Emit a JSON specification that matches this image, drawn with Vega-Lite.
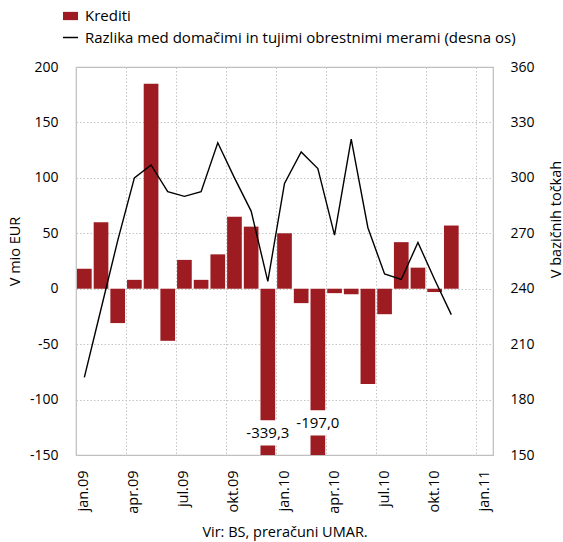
{
  "$schema": "https://vega.github.io/schema/vega-lite/v6.json",
  "width": 417,
  "height": 388,
  "autosize": "none",
  "padding": {"left": 76, "top": 67, "right": 70, "bottom": 87},
  "background": "white",
  "config": {
    "font": "Open Sans",
    "view": {"stroke": "#bdbdbd", "strokeWidth": 1.2},
    "axis": {"labelFont": "Open Sans", "titleFont": "Open Sans", "labelColor": "#000", "titleColor": "#000", "labelFontSize": 14, "titleFontSize": 14.5, "titleFontWeight": "normal", "ticks": false, "domain": false, "gridColor": "#c4c4c4", "gridDash": [1.5, 2], "gridWidth": 1},
    "legend": {"labelFont": "Open Sans", "labelFontSize": 15, "labelColor": "#000", "labelLimit": 600}
  },
  "data": {"values": [
    {"m": "jan.09", "krediti": 18, "razlika": 192},
    {"m": "feb.09", "krediti": 60, "razlika": 229},
    {"m": "mar.09", "krediti": -31, "razlika": 266},
    {"m": "apr.09", "krediti": 8, "razlika": 300},
    {"m": "maj.09", "krediti": 185, "razlika": 307},
    {"m": "jun.09", "krediti": -47, "razlika": 292.5},
    {"m": "jul.09", "krediti": 26, "razlika": 290},
    {"m": "avg.09", "krediti": 8, "razlika": 292.5},
    {"m": "sep.09", "krediti": 31, "razlika": 319},
    {"m": "okt.09", "krediti": 65, "razlika": 300},
    {"m": "nov.09", "krediti": 56, "razlika": 282},
    {"m": "dec.09", "krediti": -339.3, "razlika": 244},
    {"m": "jan.10", "krediti": 50, "razlika": 297},
    {"m": "feb.10", "krediti": -13, "razlika": 314},
    {"m": "mar.10", "krediti": -197.0, "razlika": 305},
    {"m": "apr.10", "krediti": -4, "razlika": 269},
    {"m": "maj.10", "krediti": -5, "razlika": 321},
    {"m": "jun.10", "krediti": -86, "razlika": 273},
    {"m": "jul.10", "krediti": -23, "razlika": 248},
    {"m": "avg.10", "krediti": 42, "razlika": 245},
    {"m": "sep.10", "krediti": 19, "razlika": 265},
    {"m": "okt.10", "krediti": -3, "razlika": 245},
    {"m": "nov.10", "krediti": 57, "razlika": 226}
  ]},
  "encoding": {
    "x": {
      "field": "m", "type": "ordinal", "sort": null,
      "scale": {"domain": ["jan.09","feb.09","mar.09","apr.09","maj.09","jun.09","jul.09","avg.09","sep.09","okt.09","nov.09","dec.09","jan.10","feb.10","mar.10","apr.10","maj.10","jun.10","jul.10","avg.10","sep.10","okt.10","nov.10","dec.10","jan.11"], "paddingInner": 0, "paddingOuter": 0},
      "axis": {"values": ["jan.09","apr.09","jul.09","okt.09","jan.10","apr.10","jul.10","okt.10","jan.11"], "bandPosition": 0, "grid": true, "labelAngle": -90, "labelPadding": 15, "labelFontSize": 14.5, "title": "Vir: BS, preračuni UMAR.", "titlePadding": 12}
    }
  },
  "layer": [
    {
      "layer": [
        {
          "mark": {"type": "bar", "width": {"band": 0.88}, "clip": true},
          "encoding": {
            "y": {"field": "krediti", "type": "quantitative", "scale": {"domain": [-150, 200], "nice": false, "zero": false},
                  "axis": {"values": [-150,-100,-50,0,50,100,150,200], "labelExpr": "replace(datum.label, '\u2212', '-')", "grid": true, "labelPadding": 18, "title": "V mio EUR", "titleX": -61, "titleY": 184, "titleAngle": -90, "titleBaseline": "middle", "titleAlign": "center"}},
            "fill": {"datum": "Krediti", "scale": {"range": ["#9c1c21"]},
                     "legend": {"title": null, "orient": "none", "legendX": -14, "legendY": -59.5, "symbolType": "M-1,-0.55H1V0.55H-1Z", "symbolSize": 225, "labelOffset": 6}}
          }
        },
        {
          "data": {"values": [{"m": "dec.09", "label": "-339,3", "ly": -130}, {"m": "mar.10", "label": "-197,0", "ly": -121}]},
          "mark": {"type": "point", "shape": "M-1,-0.55H1V0.55H-1Z", "filled": true, "fill": "white", "opacity": 1, "size": 2116, "strokeWidth": 0},
          "encoding": {"y": {"field": "ly", "type": "quantitative"}}
        },
        {
          "data": {"values": [{"m": "dec.09", "label": "-339,3", "ly": -130}, {"m": "mar.10", "label": "-197,0", "ly": -121}]},
          "mark": {"type": "text", "fontSize": 15, "baseline": "middle", "align": "center", "color": "#000"},
          "encoding": {"y": {"field": "ly", "type": "quantitative"}, "text": {"field": "label"}}
        },
        {
          "data": {"values": [{"z": 0}]},
          "mark": {"type": "rule", "color": "#b5b5b5", "strokeWidth": 2.5},
          "encoding": {"y": {"field": "z", "type": "quantitative"}}
        }
      ]
    },
    {
      "mark": {"type": "line", "strokeWidth": 1.4},
      "encoding": {
        "y": {"field": "razlika", "type": "quantitative", "scale": {"domain": [150, 360], "nice": false, "zero": false},
              "axis": {"orient": "right", "values": [150,180,210,240,270,300,330,360], "grid": false, "labelPadding": 17, "title": "V bazičnih točkah", "titleAngle": -90, "titleX": 63, "titleY": 152, "titleBaseline": "middle", "titleAlign": "center"}},
        "stroke": {"datum": "Razlika med domačimi in tujimi obrestnimi merami (desna os)", "scale": {"range": ["#000000"]},
                   "legend": {"title": null, "orient": "none", "legendX": -14, "legendY": -38, "symbolSize": 225, "symbolStrokeWidth": 1.5, "labelOffset": 6}}
      }
    }
  ],
  "resolve": {"scale": {"y": "independent"}}
}
